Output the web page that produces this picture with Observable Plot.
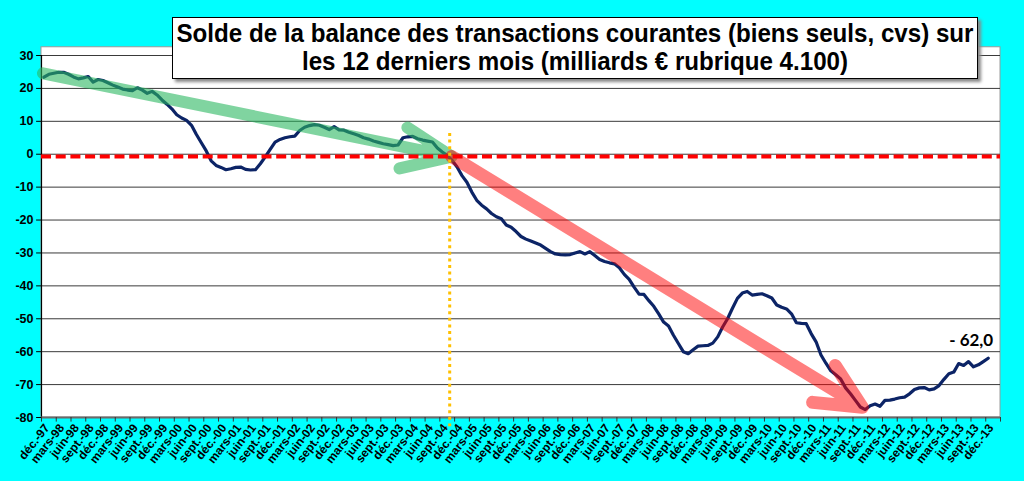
<!DOCTYPE html>
<html>
<head>
<meta charset="utf-8">
<script src="https://cdn.jsdelivr.net/npm/d3@7"></script>
<script src="https://cdn.jsdelivr.net/npm/@observablehq/plot@0.6"></script>
<style>
  html, body { margin: 0; padding: 0; background: #00FFFF; }
  #wrap { position: relative; width: 1024px; height: 481px; background: #00FFFF; overflow: hidden; }
  #chart { position: absolute; left: 0; top: 0; }
  #title {
    position: absolute; left: 172px; top: 17px; width: 806px; height: 62px;
    background: #fff; border: 1px solid #000; box-shadow: 3px 3px 3px #888;
    box-sizing: border-box; overflow: hidden;
  }
  #title span {
    position: absolute; left: 50%; white-space: nowrap; transform-origin: center;
    font-family: "Liberation Sans", Arial, sans-serif; font-weight: bold; font-size: 26px;
    line-height: 28px; color: #000;
  }
</style>
</head>
<body>
<div id="wrap">
  <div id="chart"></div>
  <div id="title">
    <span id="t1" style="top:1px">Solde de la balance des transactions courantes (biens seuls, cvs) sur</span>
    <span id="t2" style="top:29px">les 12 derniers mois (milliards € rubrique 4.100)</span>
  </div>
</div>
<script>
// Monthly values, déc.-97 (index 0) to déc.-13 (index 192)
const solde = [
  23.4, 24.3, 24.6, 24.9, 24.9, 24.3, 23.5, 22.9, 23.2, 23.6,
  21.9, 22.7, 22.4, 21.7, 21.0, 20.4, 19.8, 19.5, 19.3, 20.2,
  19.5, 18.5, 19.1, 18.0, 16.5, 15.2, 13.8, 12.0, 11.0, 10.3,
  8.8, 6.0, 3.5, 1.0, -2.0, -3.4, -4.0, -4.7, -4.4, -4.0,
  -3.9, -4.6, -4.8, -4.7, -2.9, -0.8, 1.5, 3.7, 4.5, 5.0,
  5.3, 5.5, 7.2, 8.2, 8.7, 9.0, 8.8, 8.2, 7.5, 8.4,
  7.4, 7.3, 6.7, 6.2, 5.7, 5.0, 4.6, 4.0, 3.6, 3.2,
  2.9, 2.6, 2.8, 5.0, 5.3, 5.4, 4.7, 4.3, 4.0, 3.7,
  1.9, 0.7, -0.4, -1.9, -3.9, -6.5, -8.5, -11.5, -14.0, -15.5,
  -16.6, -18.0, -19.0, -19.6, -21.5, -22.2, -23.5, -25.0, -25.8, -26.4,
  -27.0, -27.6, -28.6, -29.6, -30.3, -30.5, -30.6, -30.5, -30.0, -29.6,
  -30.3, -29.6, -30.8, -32.0, -32.6, -33.0, -33.3, -34.5, -36.5, -38.0,
  -40.4, -42.5, -42.6, -44.5, -46.2, -48.5, -51.0, -52.2, -55.0, -57.5,
  -60.0, -60.6, -59.4, -58.3, -58.2, -58.1, -57.4, -55.5, -52.5, -50.0,
  -46.8, -43.8, -42.2, -41.7, -42.8, -42.6, -42.4, -43.0, -43.7, -45.8,
  -46.5, -47.0, -48.5, -51.2, -51.4, -51.5, -54.5, -57.0, -61.0, -63.5,
  -65.8, -67.0, -68.3, -71.0, -72.8, -74.8, -76.8, -77.6, -76.4, -75.9,
  -76.6, -74.8, -74.7, -74.4, -74.0, -73.8, -72.8, -71.5, -71.0, -70.9,
  -71.6, -71.3, -70.3, -68.4, -66.7, -66.2, -63.6, -64.2, -63.0, -64.6,
  -64.0, -63.0, -62.0
];

// Quarterly tick labels (every 3rd month)
const tickLabels = [
  "déc.-97",
  "mars-98","juin-98","sept.-98","déc.-98",
  "mars-99","juin-99","sept.-99","déc.-99",
  "mars-00","juin-00","sept.-00","déc.-00",
  "mars-01","juin-01","sept.-01","déc.-01",
  "mars-02","juin-02","sept.-02","déc.-02",
  "mars-03","juin-03","sept.-03","déc.-03",
  "mars-04","juin-04","sept.-04","déc.-04",
  "mars-05","juin-05","sept.-05","déc.-05",
  "mars-06","juin-06","sept.-06","déc.-06",
  "mars-07","juin-07","sept.-07","déc.-07",
  "mars-08","juin-08","sept.-08","déc.-08",
  "mars-09","juin-09","sept.-09","déc.-09",
  "mars-10","juin-10","sept.-10","déc.-10",
  "mars-11","juin-11","sept.-11","déc.-11",
  "mars-12","juin-12","sept.-12","déc.-12",
  "mars-13","juin-13","sept.-13","déc.-13"
];

const yTicks = [30, 20, 10, 0, -10, -20, -30, -40, -50, -60, -70, -80];

// Annotations (in data units: month index, value)
const greenArrow = [
  {i: -0.2, v: 24.6}, {i: 82.9, v: -0.7}, {i: 73.9, v: 8.1},
  {i: 82.9, v: -0.7}, {i: 72.3, v: -4.3}
];
const redArrow = [
  {i: 82.9, v: -0.7}, {i: 166.4, v: -76.9}, {i: 160.9, v: -64.2},
  {i: 166.4, v: -76.9}, {i: 156.3, v: -75.4}
];
const zeroRef = -0.7;
const markerMonth = 82.5;
const lastLabel = "- 62,0";

const data = solde.map((v, i) => ({i, v}));
const labelData = tickLabels.map((t, k) => ({i: k * 3, t}));
const tickBounds = d3.range(0, 66).map(k => k * 3 - 0.5);

const font = "'Liberation Sans', Arial, sans-serif";

const chart = Plot.plot({
  width: 1024,
  height: 481,
  marginLeft: 41,
  marginRight: 24,
  marginTop: 55,
  marginBottom: 64,
  x: {type: "linear", domain: [-0.5, 194.5], axis: null},
  y: {type: "linear", domain: [-80, 30], axis: null},
  style: {background: "transparent", fontFamily: font, fontWeight: "bold", fontSize: "12px", overflow: "visible"},
  marks: [
    // plot area
    Plot.rect([0], {x1: -0.5, x2: 194.5, y1: -80, y2: 32.5, fill: "white", stroke: "#9a9a9a", strokeWidth: 1}),
    // grid
    Plot.ruleY(yTicks.filter(d => d > -80), {y: d => d, x1: -0.5, x2: 194.5, stroke: "#3a3a3a", strokeWidth: 1}),
    // y axis line and ticks
    Plot.ruleX([-0.5], {x: d => d, y1: -80, y2: 30, stroke: "#000", strokeWidth: 1.2}),
    Plot.ruleY(yTicks, {y: d => d, x1: -1.5, x2: -0.5, stroke: "#000", strokeWidth: 1}),
    Plot.text(yTicks, {x: -0.5, y: d => d, text: d => String(d), textAnchor: "end", dx: -8, fill: "#000", fontSize: 12.5, fontWeight: "bold"}),
    // x axis line, ticks, labels
    Plot.ruleY([-80], {y: d => d, x1: -0.5, x2: 194.5, stroke: "#6a6a6a", strokeWidth: 2}),
    Plot.ruleX(tickBounds, {x: d => d, y1: -80, y2: -81.4, stroke: "#333", strokeWidth: 1}),
    Plot.text(labelData, {x: "i", y: -80, text: "t", rotate: -52, textAnchor: "end", dx: 3, dy: 8, fill: "#000", fontSize: 12, fontWeight: "bold"}),
    // series
    Plot.line(data, {x: "i", y: "v", stroke: "#0c2466", strokeWidth: 3.2, strokeLinejoin: "round"}),
    // arrows
    Plot.line(greenArrow, {x: "i", y: "v", stroke: "#2bb761", strokeOpacity: 0.6, strokeWidth: 12, strokeLinejoin: "round", strokeLinecap: "round"}),
    Plot.line(redArrow, {x: "i", y: "v", stroke: "#ff0000", strokeOpacity: 0.5, strokeWidth: 13, strokeLinejoin: "round", strokeLinecap: "round"}),
    // reference lines
    Plot.ruleY([zeroRef], {y: d => d, x1: -0.5, x2: 194.5, stroke: "#ff0000", strokeWidth: 4, strokeDasharray: "10,4.7"}),
    Plot.ruleX([markerMonth], {x: d => d, y1: 6.3, y2: -82.8, stroke: "#ffc000", strokeWidth: 3, strokeDasharray: "3,3.6"}),
    // last value label
    Plot.text([data[data.length - 1]], {x: "i", y: "v", text: () => lastLabel, textAnchor: "end", dx: 5, dy: -18, fill: "#000", fontSize: 17, fontWeight: "bold", fontFamily: "Lato, 'Liberation Sans', sans-serif"})
  ]
});
document.getElementById("chart").appendChild(chart);

// Fit title lines to the reference widths (condensed look)
const t1 = document.getElementById("t1"), t2 = document.getElementById("t2");
const k = 797 / t1.getBoundingClientRect().width;
t1.style.transform = `translateX(-50%) scaleX(${k})`;
t2.style.transform = `translateX(-50%) scaleX(${k})`;
</script>
</body>
</html>
